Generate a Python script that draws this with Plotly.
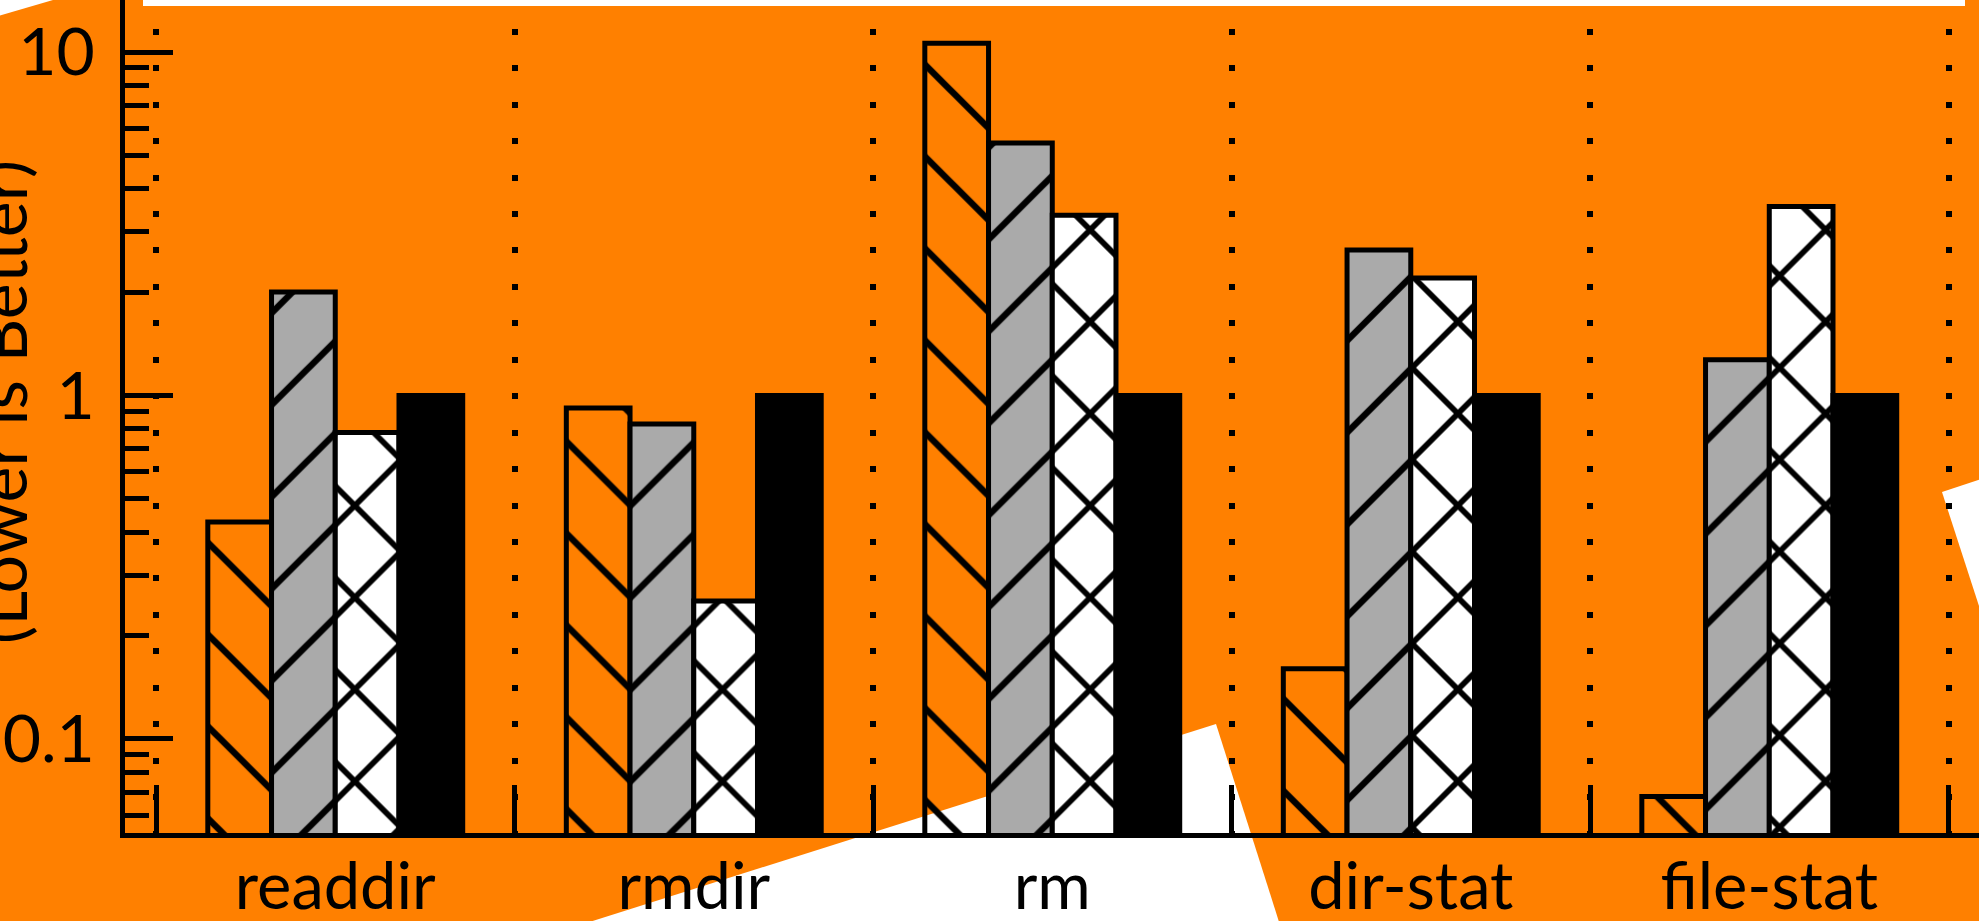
import plotly.graph_objects as go

# ---------------- data ----------------
categories = ["readdir", "rmdir", "rm", "dir-stat", "file-stat"]
series_hatch_back = [0.428, 0.92, 10.6, 0.16, 0.068]   # no fill, "\" hatch
series_gray_fwd = [2.0, 0.826, 5.43, 2.65, 1.27]       # gray, "/" hatch
series_white_x = [0.78, 0.252, 3.35, 2.2, 3.55]        # white, "x" hatch
series_black = [1.0, 1.0, 1.0, 1.0, 1.0]               # solid black

y_tick_vals = [0.1, 1, 10]
y_tick_text = ["0.1", "1", "10"]
y_minor_vals = [0.06, 0.07, 0.08, 0.09,
                0.2, 0.3, 0.4, 0.5, 0.6, 0.7, 0.8, 0.9,
                2, 3, 4, 5, 6, 7, 8, 9]
y_title = "(Lower is Better)"

# ---------------- layout constants ----------------
W, H = 1979, 921
ML, MR, MT, MB = 125, 0, 0, 88
PW, PH = W - ML - MR, H - MT - MB
ORANGE = "#FF8000"
FONT = "Lato"
LINE_W = 5


def X(px):
    return (px - ML) / PW


def Y(py):
    return (H - MB - py) / PH


def poly(points):
    return "M " + " L ".join(f"{X(a):.5f},{Y(b):.5f}" for a, b in points) + " Z"


fig = go.Figure()

common_line = dict(color="black", width=LINE_W)
fig.add_trace(go.Bar(
    x=categories, y=series_hatch_back,
    marker=dict(color="rgba(0,0,0,0)", line=common_line,
                pattern=dict(shape="\\", size=65, solidity=0.1, fgopacity=1,
                             fgcolor="black", bgcolor="rgba(0,0,0,0)")),
))
fig.add_trace(go.Bar(
    x=categories, y=series_gray_fwd,
    marker=dict(color="#AAAAAA", line=common_line,
                pattern=dict(shape="/", size=65, solidity=0.1, fgopacity=1,
                             fgcolor="black", bgcolor="#AAAAAA")),
))
fig.add_trace(go.Bar(
    x=categories, y=series_white_x,
    marker=dict(color="white", line=common_line,
                pattern=dict(shape="x", size=65, solidity=0.17, fgopacity=1,
                             fgcolor="black", bgcolor="white")),
))
fig.add_trace(go.Bar(
    x=categories, y=series_black,
    marker=dict(color="black", line=common_line),
))

# white background patches (the rest of the page is orange)
white_polys = [
    [(143, -5), (1965, -5), (1965, 6), (143, 6)],
    [(-5, -5), (53, -5), (53, 0), (-5, 17)],
    [(580, 925), (1216, 724), (1280, 925)],
    [(1942, 492), (1990, 476), (1990, 640)],
]
shapes = [dict(type="path", xref="paper", yref="paper", path=poly(p),
               fillcolor="white", line=dict(width=0), layer="below")
          for p in white_polys]

fig.update_layout(
    width=W, height=H, autosize=False,
    margin=dict(l=ML, r=MR, t=MT, b=MB, pad=0, autoexpand=False),
    paper_bgcolor=ORANGE, plot_bgcolor=ORANGE,
    barmode="group", bargap=0.289, bargroupgap=0,
    showlegend=False,
    font=dict(family=FONT, color="black", size=66),
    shapes=shapes,
    annotations=[dict(
        text=y_title, textangle=-90, showarrow=False,
        xref="paper", yref="paper", x=X(0), y=Y(402),
        xanchor="center", yanchor="middle",
        font=dict(family=FONT, size=68, color="black"),
    )],
)

fig.update_xaxes(
    type="category", categoryorder="array", categoryarray=categories,
    range=[-0.5865, 4.585], automargin=False,
    tickson="boundaries", ticks="inside", ticklen=48, tickwidth=LINE_W,
    tickcolor="black",
    showgrid=True, gridcolor="black", gridwidth=6,
    griddash="0px,28.7px,6px,1.75px",
    showline=True, linecolor="black", linewidth=LINE_W,
    zeroline=False, ticklabelstandoff=-7,
    tickfont=dict(family=FONT, size=65, color="black"),
)

fig.update_yaxes(
    type="log", range=[-1.2737, 1.1514], automargin=False,
    tickmode="array", tickvals=y_tick_vals, ticktext=y_tick_text,
    ticks="inside", ticklen=48, tickwidth=LINE_W, tickcolor="black",
    minor=dict(tickmode="array", tickvals=y_minor_vals, ticks="inside",
               ticklen=24, tickwidth=LINE_W, tickcolor="black",
               showgrid=False),
    showgrid=False, zeroline=False,
    showline=True, linecolor="black", linewidth=LINE_W,
    ticklabelstandoff=12,
    tickfont=dict(family=FONT, size=66, color="black"),
)

fig.write_html(
    "out.html",
    config={"displayModeBar": False},
    post_script="document.body.style.margin='0';document.body.style.overflow='hidden';",
)
